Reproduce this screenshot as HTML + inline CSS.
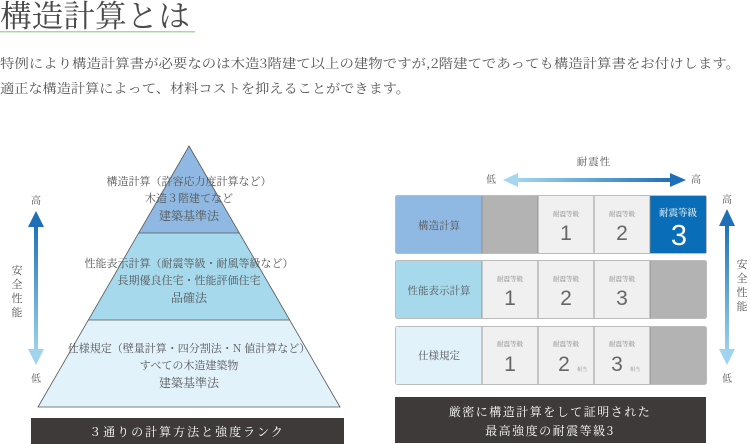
<!DOCTYPE html>
<html><head><meta charset="utf-8"><style>
html,body{margin:0;padding:0;background:#fff;width:750px;height:444px;overflow:hidden}
svg{display:block}
text{font-family:"Noto Serif CJK JP","Noto Serif CJK SC",serif;fill:#555}
.n{font-family:"Liberation Sans","DejaVu Sans",sans-serif;fill:#666}
</style></head><body>
<svg width="750" height="444" viewBox="0 0 750 444" xmlns="http://www.w3.org/2000/svg">
<defs>
<linearGradient id="gv" x1="0" y1="0" x2="0" y2="1"><stop offset="0" stop-color="#1e6fb8"/><stop offset="1" stop-color="#9fd3ee"/></linearGradient>
<linearGradient id="gh" x1="0" y1="0" x2="1" y2="0"><stop offset="0" stop-color="#a5d8f0"/><stop offset="1" stop-color="#1e6fb8"/></linearGradient>
</defs>
<text x="0" y="27" font-size="31" textLength="190" lengthAdjust="spacingAndGlyphs" style="fill:#4a4a4a">構造計算とは</text>
<rect x="0" y="31" width="195" height="1.5" fill="#a8d8a0"/>
<text x="0" y="68" font-size="13" textLength="740" lengthAdjust="spacingAndGlyphs">特例により構造計算書が必要なのは木造3階建て以上の建物ですが,2階建てであっても構造計算書をお付けします。</text>
<text x="0" y="93" font-size="13" textLength="410" lengthAdjust="spacingAndGlyphs">適正な構造計算によって、材料コストを抑えることができます。</text>

<!-- pyramid -->
<polygon points="189,146 239,233 139,233" fill="#8fb9e2"/>
<polygon points="139,233 239,233 290,320 88,320" fill="#a6d9ec"/>
<polygon points="88,320 290,320 340,407 38,407" fill="#e2f2fb"/>
<polygon points="189,146 340,407 38,407" fill="none" stroke="#555" stroke-width="0.8"/>
<line x1="139" y1="233" x2="239" y2="233" stroke="#555" stroke-width="0.8"/>
<line x1="88" y1="320" x2="290" y2="320" stroke="#555" stroke-width="0.8"/>
<g font-size="11" text-anchor="middle">
<text x="189" y="185">構造計算（許容応力度計算など）</text>
<text x="189" y="202">木造３階建てなど</text>
<text x="189" y="220" font-size="12">建築基準法</text>
<text x="189" y="267">性能表示計算（耐震等級・耐風等級など）</text>
<text x="189" y="284">長期優良住宅・性能評価住宅</text>
<text x="189" y="302" font-size="12">品確法</text>
<text x="189" y="352">仕様規定（壁量計算・四分割法・N 値計算など）</text>
<text x="189" y="369">すべての木造建築物</text>
<text x="189" y="387" font-size="12">建築基準法</text>
</g>
<rect x="31" y="418" width="313" height="26" fill="#3e3a39"/>
<text x="187" y="436" font-size="12" text-anchor="middle" letter-spacing="2" style="fill:#fff">３通りの計算方法と強度ランク</text>
<!-- left arrow -->
<rect x="34" y="222" width="4" height="132" fill="url(#gv)"/>
<polygon points="36,211 28,227 44,227" fill="#1e6fb8"/>
<polygon points="36,365 28,349 44,349" fill="#9fd3ee"/>
<text x="36" y="204" font-size="10" text-anchor="middle">高</text>
<text x="36" y="382" font-size="10" text-anchor="middle">低</text>
<g font-size="11" text-anchor="middle"><text x="17" y="274">安</text><text x="17" y="288">全</text><text x="17" y="302">性</text><text x="17" y="316">能</text></g>

<!-- right table -->
<text x="594" y="165" font-size="10.5" text-anchor="middle" letter-spacing="1">耐震性</text>
<text x="491" y="183" font-size="10" text-anchor="middle">低</text>
<text x="696" y="183" font-size="10" text-anchor="middle">高</text>
<rect x="512" y="178" width="162" height="4" fill="url(#gh)"/>
<polygon points="503,180 518,173 518,187" fill="#a5d8f0"/>
<polygon points="686,180 670,173 670,187" fill="#1e6fb8"/>

<g stroke="#bbb" stroke-width="1">
<rect x="395.5" y="195.5" width="311" height="58" rx="2" fill="#f0f0f0"/>
<rect x="395.5" y="260.5" width="311" height="58" rx="2" fill="#f0f0f0"/>
<rect x="395.5" y="326.5" width="311" height="58" rx="2" fill="#f0f0f0"/>
</g>
<rect x="396" y="196" width="86" height="57" fill="#8fb9e2"/>
<rect x="396" y="261" width="86" height="57" fill="#a6d9ec"/>
<rect x="396" y="327" width="86" height="57" fill="#e2f2fb"/>
<rect x="482" y="196" width="56" height="57" fill="#b3b3b3"/>
<rect x="650" y="196" width="56" height="57" fill="#0a6db7"/>
<rect x="650" y="261" width="56" height="57" fill="#b3b3b3"/>
<rect x="650" y="327" width="56" height="57" fill="#b3b3b3"/>
<g stroke="#888" stroke-width="0.8">
<line x1="482" y1="196" x2="482" y2="253"/><line x1="538" y1="196" x2="538" y2="253"/><line x1="594" y1="196" x2="594" y2="253"/><line x1="650" y1="196" x2="650" y2="253"/>
<line x1="482" y1="261" x2="482" y2="318"/><line x1="538" y1="261" x2="538" y2="318"/><line x1="594" y1="261" x2="594" y2="318"/><line x1="650" y1="261" x2="650" y2="318"/>
<line x1="482" y1="327" x2="482" y2="384"/><line x1="538" y1="327" x2="538" y2="384"/><line x1="594" y1="327" x2="594" y2="384"/><line x1="650" y1="327" x2="650" y2="384"/>
</g>
<g font-size="10.5" text-anchor="middle">
<text x="439" y="229">構造計算</text>
<text x="439" y="294">性能表示計算</text>
<text x="439" y="359">仕様規定</text>
</g>
<g font-size="6.5" text-anchor="middle">
<text x="566" y="216" style="fill:#888">耐震等級</text><text x="622" y="216" style="fill:#888">耐震等級</text>
<text x="510" y="281" style="fill:#888">耐震等級</text><text x="566" y="281" style="fill:#888">耐震等級</text><text x="622" y="281" style="fill:#888">耐震等級</text>
<text x="510" y="346" style="fill:#888">耐震等級</text><text x="566" y="346" style="fill:#888">耐震等級</text><text x="622" y="346" style="fill:#888">耐震等級</text>
</g>
<text x="678" y="216" font-size="9.5" text-anchor="middle" style="fill:#fff">耐震等級</text>
<g font-size="21" text-anchor="middle">
<text class="n" x="566" y="240">1</text><text class="n" x="622" y="240">2</text>
<text class="n" x="510" y="305">1</text><text class="n" x="566" y="305">2</text><text class="n" x="622" y="305">3</text>
<text class="n" x="510" y="371">1</text><text class="n" x="564" y="371">2</text><text class="n" x="617" y="371">3</text>
</g>
<text x="577" y="371" font-size="5" style="fill:#888">相当</text>
<text x="630" y="371" font-size="5" style="fill:#888">相当</text>
<text x="679" y="245" font-size="29" text-anchor="middle" class="n" style="fill:#fff">3</text>

<rect x="395" y="397" width="311" height="46" fill="#3e3a39"/>
<text x="550" y="416" font-size="12" text-anchor="middle" letter-spacing="1.5" style="fill:#fff">厳密に構造計算をして証明された</text>
<text x="550" y="435" font-size="12" text-anchor="middle" letter-spacing="1.5" style="fill:#fff">最高強度の耐震等級3</text>

<rect x="725" y="222" width="4" height="132" fill="url(#gv)"/>
<polygon points="727,209 719,226 735,226" fill="#1e6fb8"/>
<polygon points="727,365 719,349 735,349" fill="#9fd3ee"/>
<text x="727" y="203" font-size="10" text-anchor="middle">高</text>
<text x="727" y="382" font-size="10" text-anchor="middle">低</text>
<g font-size="11" text-anchor="middle"><text x="742" y="268">安</text><text x="742" y="282">全</text><text x="742" y="296">性</text><text x="742" y="310">能</text></g>
</svg>
</body></html>
